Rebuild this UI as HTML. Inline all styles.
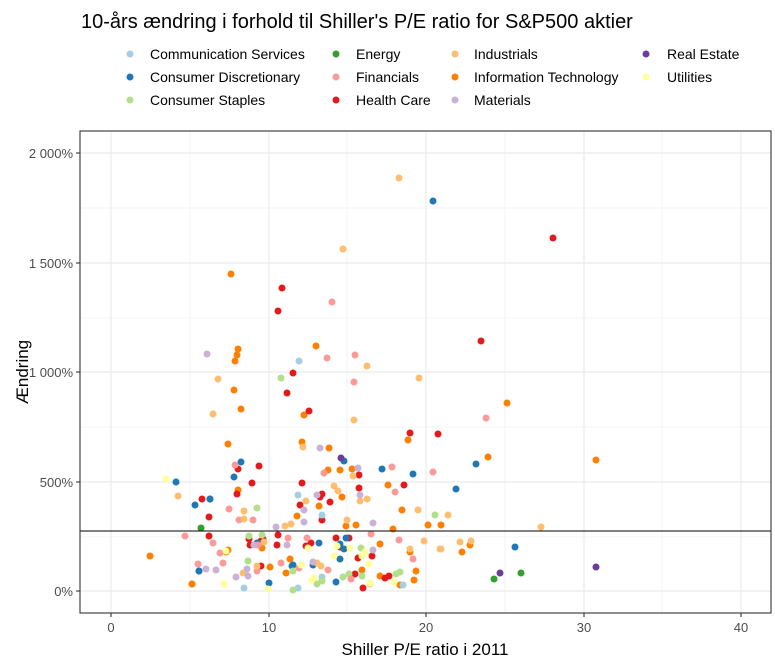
<!DOCTYPE html>
<html><head><meta charset="utf-8"><style>
body{margin:0;background:#fff}
svg{display:block;font-family:"Liberation Sans",Arial,sans-serif}
.a{fill:#A6CEE3}.b{fill:#1F78B4}.c{fill:#B2DF8A}.d{fill:#33A02C}.e{fill:#FB9A99}.f{fill:#E31A1C}.g{fill:#FDBF6F}.h{fill:#FF7F00}.i{fill:#CAB2D6}.j{fill:#6A3D9A}.k{fill:#FFFF99}
</style></head><body>
<svg width="775" height="661" viewBox="0 0 775 661">
<rect width="775" height="661" fill="#fff"/>
<text x="81" y="28" font-size="20" fill="#000">10-års ændring i forhold til Shiller's P/E ratio for S&amp;P500 aktier</text>
<g font-size="14" fill="#000">
<circle cx="130" cy="54" r="3.5" class="a"/><text x="150" y="59">Communication Services</text>
<circle cx="130" cy="77" r="3.5" class="b"/><text x="150" y="82">Consumer Discretionary</text>
<circle cx="130" cy="100" r="3.5" class="c"/><text x="150" y="105">Consumer Staples</text>
<circle cx="336" cy="54" r="3.5" class="d"/><text x="356" y="59">Energy</text>
<circle cx="336" cy="77" r="3.5" class="e"/><text x="356" y="82">Financials</text>
<circle cx="336" cy="100" r="3.5" class="f"/><text x="356" y="105">Health Care</text>
<circle cx="455" cy="54" r="3.5" class="g"/><text x="474" y="59">Industrials</text>
<circle cx="455" cy="77" r="3.5" class="h"/><text x="474" y="82">Information Technology</text>
<circle cx="455" cy="100" r="3.5" class="i"/><text x="474" y="105">Materials</text>
<circle cx="646" cy="54" r="3.5" class="j"/><text x="667" y="59">Real Estate</text>
<circle cx="646" cy="77" r="3.5" class="k"/><text x="667" y="82">Utilities</text>
</g>
<g stroke="#ebebeb" stroke-width="0.6">
<line x1="190" y1="131" x2="190" y2="613"/><line x1="347" y1="131" x2="347" y2="613"/><line x1="505" y1="131" x2="505" y2="613"/><line x1="662" y1="131" x2="662" y2="613"/>
<line x1="80" y1="208" x2="771" y2="208"/><line x1="80" y1="318" x2="771" y2="318"/><line x1="80" y1="427" x2="771" y2="427"/><line x1="80" y1="537" x2="771" y2="537"/>
</g>
<g stroke="#ebebeb" stroke-width="1.2">
<line x1="111" y1="131" x2="111" y2="613"/><line x1="269" y1="131" x2="269" y2="613"/><line x1="426" y1="131" x2="426" y2="613"/><line x1="584" y1="131" x2="584" y2="613"/><line x1="741" y1="131" x2="741" y2="613"/>
<line x1="80" y1="153" x2="771" y2="153"/><line x1="80" y1="263" x2="771" y2="263"/><line x1="80" y1="372" x2="771" y2="372"/><line x1="80" y1="482" x2="771" y2="482"/><line x1="80" y1="591" x2="771" y2="591"/>
</g>
<g r="3.5">
<!-- IT -->
<g class="h">
<circle cx="150" cy="556" r="3.5"/><circle cx="192" cy="584" r="3.5"/><circle cx="231" cy="274" r="3.5"/><circle cx="228" cy="444" r="3.5"/><circle cx="241" cy="409" r="3.5"/><circle cx="234" cy="390" r="3.5"/><circle cx="237" cy="355" r="3.5"/><circle cx="235" cy="361" r="3.5"/><circle cx="238" cy="349" r="3.5"/><circle cx="238" cy="490" r="3.5"/><circle cx="262" cy="548" r="3.5"/><circle cx="302" cy="442" r="3.5"/><circle cx="304" cy="415" r="3.5"/><circle cx="297" cy="516" r="3.5"/><circle cx="316" cy="346" r="3.5"/><circle cx="329" cy="448" r="3.5"/><circle cx="319" cy="506" r="3.5"/><circle cx="328" cy="470" r="3.5"/><circle cx="346" cy="526" r="3.5"/><circle cx="342" cy="497" r="3.5"/><circle cx="356" cy="525" r="3.5"/><circle cx="388" cy="485" r="3.5"/><circle cx="393" cy="529" r="3.5"/><circle cx="408" cy="440" r="3.5"/><circle cx="402" cy="510" r="3.5"/><circle cx="410" cy="552" r="3.5"/><circle cx="414" cy="580" r="3.5"/><circle cx="428" cy="525" r="3.5"/><circle cx="441" cy="525" r="3.5"/><circle cx="462" cy="552" r="3.5"/><circle cx="470" cy="545" r="3.5"/><circle cx="488" cy="457" r="3.5"/><circle cx="507" cy="403" r="3.5"/><circle cx="596" cy="460" r="3.5"/><circle cx="380" cy="544" r="3.5"/><circle cx="400" cy="585" r="3.5"/><circle cx="416" cy="571" r="3.5"/><circle cx="362" cy="570" r="3.5"/><circle cx="380" cy="576" r="3.5"/><circle cx="290" cy="559" r="3.5"/><circle cx="352" cy="469" r="3.5"/><circle cx="340" cy="470" r="3.5"/><circle cx="192" cy="584" r="3.5"/><circle cx="228" cy="550" r="3.5"/><circle cx="270" cy="567" r="3.5"/><circle cx="286" cy="573" r="3.5"/><circle cx="226" cy="552" r="3.5"/>
</g>
<g class="f">
<circle cx="202" cy="499" r="3.5"/><circle cx="209" cy="517" r="3.5"/><circle cx="237" cy="494" r="3.5"/><circle cx="238" cy="469" r="3.5"/><circle cx="252" cy="483" r="3.5"/><circle cx="259" cy="466" r="3.5"/><circle cx="250" cy="545" r="3.5"/><circle cx="282" cy="288" r="3.5"/><circle cx="278" cy="311" r="3.5"/><circle cx="287" cy="393" r="3.5"/><circle cx="293" cy="373" r="3.5"/><circle cx="300" cy="505" r="3.5"/><circle cx="302" cy="483" r="3.5"/><circle cx="309" cy="411" r="3.5"/><circle cx="320" cy="497" r="3.5"/><circle cx="322" cy="494" r="3.5"/><circle cx="330" cy="502" r="3.5"/><circle cx="322" cy="520" r="3.5"/><circle cx="359" cy="475" r="3.5"/><circle cx="359" cy="488" r="3.5"/><circle cx="372" cy="556" r="3.5"/><circle cx="404" cy="485" r="3.5"/><circle cx="410" cy="433" r="3.5"/><circle cx="438" cy="434" r="3.5"/><circle cx="481" cy="341" r="3.5"/><circle cx="553" cy="238" r="3.5"/><circle cx="209" cy="536" r="3.5"/><circle cx="249" cy="539" r="3.5"/><circle cx="261" cy="541" r="3.5"/><circle cx="263" cy="539" r="3.5"/><circle cx="278" cy="535" r="3.5"/><circle cx="277" cy="545" r="3.5"/><circle cx="261" cy="566" r="3.5"/><circle cx="306" cy="546" r="3.5"/><circle cx="311" cy="543" r="3.5"/><circle cx="336" cy="538" r="3.5"/><circle cx="340" cy="547" r="3.5"/><circle cx="358" cy="558" r="3.5"/><circle cx="355" cy="574" r="3.5"/><circle cx="363" cy="588" r="3.5"/><circle cx="385" cy="578" r="3.5"/><circle cx="389" cy="576" r="3.5"/><circle cx="349" cy="538" r="3.5"/>
</g>
<g class="b">
<circle cx="433" cy="201" r="3.5"/><circle cx="176" cy="482" r="3.5"/><circle cx="195" cy="505" r="3.5"/><circle cx="210" cy="499" r="3.5"/><circle cx="199" cy="571" r="3.5"/><circle cx="241" cy="462" r="3.5"/><circle cx="234" cy="477" r="3.5"/><circle cx="210" cy="499" r="3.5"/><circle cx="257" cy="543" r="3.5"/><circle cx="269" cy="583" r="3.5"/><circle cx="293" cy="565" r="3.5"/><circle cx="292" cy="566" r="3.5"/><circle cx="319" cy="543" r="3.5"/><circle cx="340" cy="544" r="3.5"/><circle cx="344" cy="549" r="3.5"/><circle cx="340" cy="559" r="3.5"/><circle cx="336" cy="582" r="3.5"/><circle cx="382" cy="469" r="3.5"/><circle cx="413" cy="474" r="3.5"/><circle cx="456" cy="489" r="3.5"/><circle cx="476" cy="464" r="3.5"/><circle cx="515" cy="547" r="3.5"/><circle cx="344" cy="461" r="3.5"/><circle cx="346" cy="538" r="3.5"/><circle cx="199" cy="571" r="3.5"/><circle cx="313" cy="565" r="3.5"/>
</g>
<g class="a">
<circle cx="299" cy="361" r="3.5"/><circle cx="298" cy="495" r="3.5"/><circle cx="244" cy="588" r="3.5"/><circle cx="298" cy="588" r="3.5"/><circle cx="322" cy="515" r="3.5"/><circle cx="322" cy="577" r="3.5"/><circle cx="403" cy="585" r="3.5"/>
</g>
<g class="c">
<circle cx="201" cy="528" r="3.5"/><circle cx="249" cy="536" r="3.5"/><circle cx="281" cy="378" r="3.5"/><circle cx="257" cy="508" r="3.5"/><circle cx="293" cy="590" r="3.5"/><circle cx="293" cy="571" r="3.5"/><circle cx="317" cy="584" r="3.5"/><circle cx="322" cy="581" r="3.5"/><circle cx="343" cy="577" r="3.5"/><circle cx="349" cy="574" r="3.5"/><circle cx="362" cy="576" r="3.5"/><circle cx="396" cy="574" r="3.5"/><circle cx="400" cy="572" r="3.5"/><circle cx="435" cy="515" r="3.5"/><circle cx="248" cy="561" r="3.5"/><circle cx="262" cy="535" r="3.5"/><circle cx="361" cy="548" r="3.5"/>
</g>
<g class="d">
<circle cx="201" cy="528" r="3.5"/><circle cx="494" cy="579" r="3.5"/><circle cx="521" cy="573" r="3.5"/>
</g>
<g class="e">
<circle cx="185" cy="536" r="3.5"/><circle cx="213" cy="543" r="3.5"/><circle cx="198" cy="564" r="3.5"/><circle cx="229" cy="509" r="3.5"/><circle cx="235" cy="465" r="3.5"/><circle cx="239" cy="520" r="3.5"/><circle cx="257" cy="571" r="3.5"/><circle cx="258" cy="545" r="3.5"/><circle cx="220" cy="553" r="3.5"/><circle cx="223" cy="563" r="3.5"/><circle cx="281" cy="563" r="3.5"/><circle cx="288" cy="538" r="3.5"/><circle cx="299" cy="568" r="3.5"/><circle cx="307" cy="538" r="3.5"/><circle cx="332" cy="302" r="3.5"/><circle cx="327" cy="358" r="3.5"/><circle cx="355" cy="355" r="3.5"/><circle cx="354" cy="382" r="3.5"/><circle cx="351" cy="579" r="3.5"/><circle cx="328" cy="570" r="3.5"/><circle cx="371" cy="534" r="3.5"/><circle cx="392" cy="467" r="3.5"/><circle cx="395" cy="492" r="3.5"/><circle cx="413" cy="559" r="3.5"/><circle cx="486" cy="418" r="3.5"/><circle cx="433" cy="472" r="3.5"/><circle cx="324" cy="473" r="3.5"/><circle cx="253" cy="520" r="3.5"/><circle cx="399" cy="540" r="3.5"/>
</g>
<g class="g">
<circle cx="399" cy="178" r="3.5"/><circle cx="343" cy="249" r="3.5"/><circle cx="218" cy="379" r="3.5"/><circle cx="213" cy="414" r="3.5"/><circle cx="178" cy="496" r="3.5"/><circle cx="244" cy="511" r="3.5"/><circle cx="257" cy="566" r="3.5"/><circle cx="264" cy="542" r="3.5"/><circle cx="285" cy="526" r="3.5"/><circle cx="303" cy="447" r="3.5"/><circle cx="306" cy="501" r="3.5"/><circle cx="334" cy="486" r="3.5"/><circle cx="347" cy="520" r="3.5"/><circle cx="353" cy="476" r="3.5"/><circle cx="370" cy="584" r="3.5"/><circle cx="367" cy="366" r="3.5"/><circle cx="354" cy="420" r="3.5"/><circle cx="338" cy="491" r="3.5"/><circle cx="360" cy="501" r="3.5"/><circle cx="367" cy="499" r="3.5"/><circle cx="419" cy="378" r="3.5"/><circle cx="441" cy="549" r="3.5"/><circle cx="448" cy="515" r="3.5"/><circle cx="440" cy="549" r="3.5"/><circle cx="460" cy="542" r="3.5"/><circle cx="471" cy="541" r="3.5"/><circle cx="541" cy="527" r="3.5"/><circle cx="244" cy="519" r="3.5"/><circle cx="243" cy="573" r="3.5"/><circle cx="317" cy="563" r="3.5"/><circle cx="321" cy="566" r="3.5"/><circle cx="418" cy="510" r="3.5"/><circle cx="424" cy="541" r="3.5"/><circle cx="291" cy="524" r="3.5"/><circle cx="410" cy="549" r="3.5"/>
</g>
<g class="i">
<circle cx="207" cy="354" r="3.5"/><circle cx="216" cy="570" r="3.5"/><circle cx="247" cy="569" r="3.5"/><circle cx="276" cy="527" r="3.5"/><circle cx="304" cy="522" r="3.5"/><circle cx="320" cy="448" r="3.5"/><circle cx="304" cy="510" r="3.5"/><circle cx="317" cy="495" r="3.5"/><circle cx="360" cy="495" r="3.5"/><circle cx="358" cy="468" r="3.5"/><circle cx="373" cy="550" r="3.5"/><circle cx="373" cy="523" r="3.5"/><circle cx="248" cy="576" r="3.5"/><circle cx="236" cy="577" r="3.5"/><circle cx="287" cy="545" r="3.5"/><circle cx="206" cy="569" r="3.5"/><circle cx="254" cy="545" r="3.5"/><circle cx="313" cy="562" r="3.5"/>
</g>
<g class="j">
<circle cx="341" cy="458" r="3.5"/><circle cx="500" cy="573" r="3.5"/><circle cx="596" cy="567" r="3.5"/>
</g>
<g class="k">
<circle cx="166" cy="479" r="3.5"/><circle cx="224" cy="584" r="3.5"/><circle cx="268" cy="589" r="3.5"/><circle cx="226" cy="551" r="3.5"/><circle cx="301" cy="565" r="3.5"/><circle cx="308" cy="548" r="3.5"/><circle cx="334" cy="556" r="3.5"/><circle cx="337" cy="546" r="3.5"/><circle cx="314" cy="578" r="3.5"/><circle cx="362" cy="556" r="3.5"/><circle cx="365" cy="552" r="3.5"/><circle cx="369" cy="564" r="3.5"/><circle cx="394" cy="582" r="3.5"/><circle cx="370" cy="583" r="3.5"/><circle cx="350" cy="548" r="3.5"/><circle cx="312" cy="580" r="3.5"/>
</g>
</g>
<line x1="80" y1="531" x2="771" y2="531" stroke="#000" stroke-width="1.1"/>
<rect x="80" y="131" width="691" height="482" fill="none" stroke="#333" stroke-width="1.1"/>
<g stroke="#333" stroke-width="1.1">
<line x1="76" y1="153" x2="80" y2="153"/><line x1="76" y1="263" x2="80" y2="263"/><line x1="76" y1="372" x2="80" y2="372"/><line x1="76" y1="482" x2="80" y2="482"/><line x1="76" y1="591" x2="80" y2="591"/>
<line x1="111" y1="613" x2="111" y2="617"/><line x1="269" y1="613" x2="269" y2="617"/><line x1="426" y1="613" x2="426" y2="617"/><line x1="584" y1="613" x2="584" y2="617"/><line x1="741" y1="613" x2="741" y2="617"/>
</g>
<g font-size="13" fill="#4d4d4d" text-anchor="end">
<text x="73" y="158">2 000%</text><text x="73" y="268">1 500%</text><text x="73" y="377">1 000%</text><text x="73" y="487">500%</text><text x="73" y="596">0%</text>
</g>
<g font-size="13" fill="#4d4d4d" text-anchor="middle">
<text x="111" y="632">0</text><text x="269" y="632">10</text><text x="426" y="632">20</text><text x="584" y="632">30</text><text x="741" y="632">40</text>
</g>
<text x="425" y="655" font-size="17" text-anchor="middle">Shiller P/E ratio i 2011</text>
<text transform="translate(28,372) rotate(-90)" font-size="17" text-anchor="middle">Ændring</text>
</svg>
</body></html>
